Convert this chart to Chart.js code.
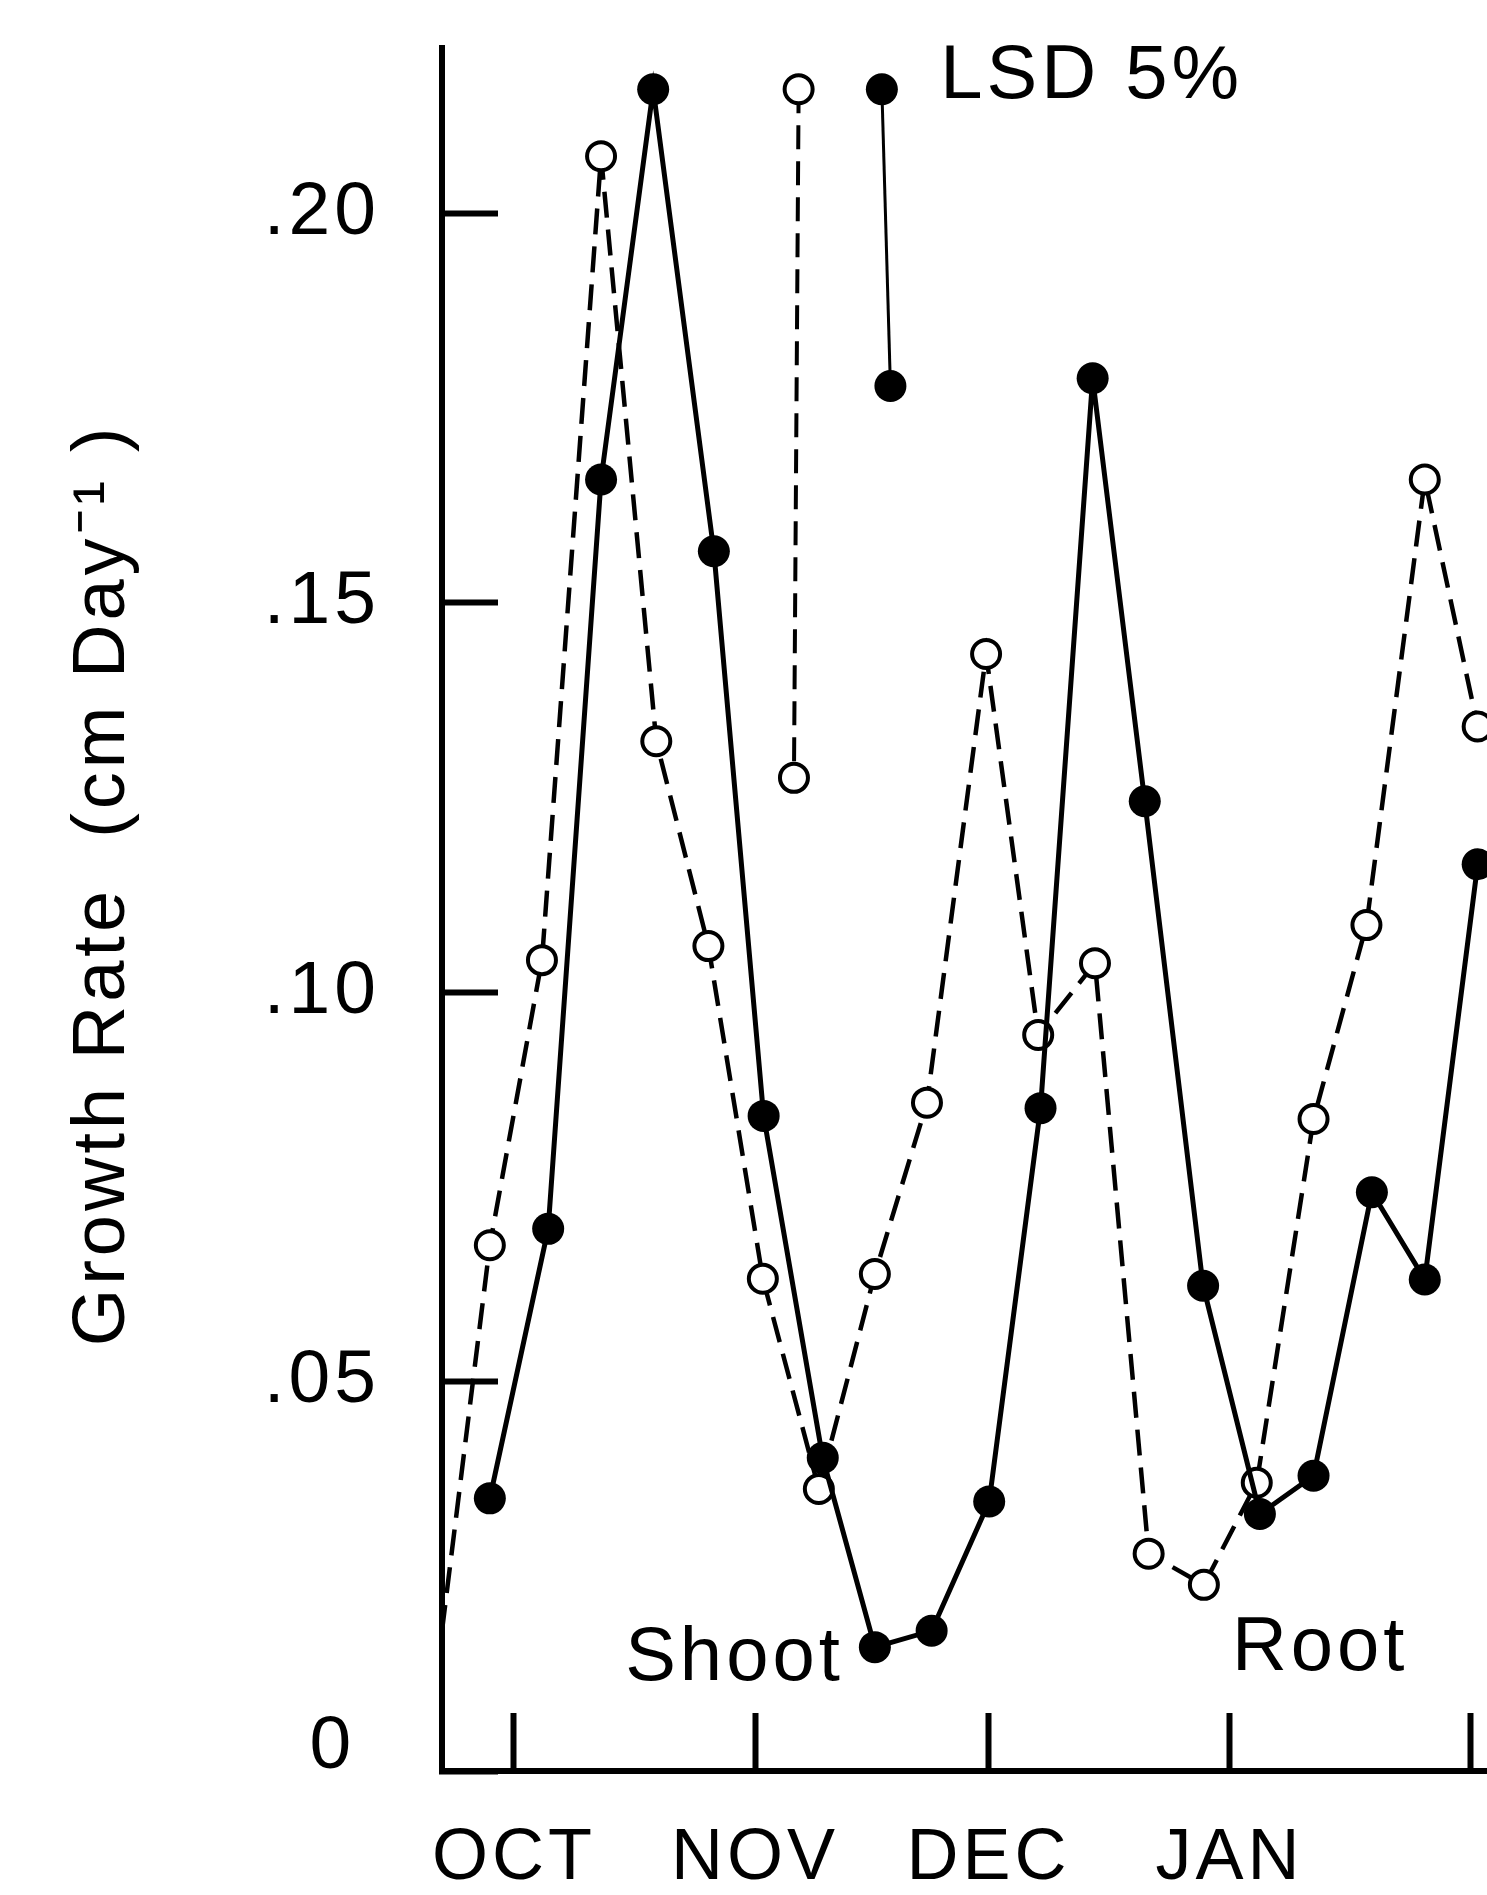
<!DOCTYPE html>
<html>
<head>
<meta charset="utf-8">
<script src="https://cdn.jsdelivr.net/npm/chart.js@4.4.0/dist/chart.umd.min.js"></script>
<style>
html,body{margin:0;padding:0;background:#fff;overflow:hidden}
canvas{display:block}
</style>
</head>
<body>
<canvas id="c" width="1487" height="1895"></canvas>
<script>
// Sampling dates in days after 1 October, and growth rates (cm day^-1)
const shootDays = [-3.1, 4.4, 11.2, 17.9, 25.7, 32.1, 39.7, 46.4, 53.7, 61.1, 67.7, 74.4, 81.1, 88.6, 95.9, 102.8, 110.3, 117.1, 123.9];
const shootRate = [0.0350, 0.0696, 0.1658, 0.2159, 0.1566, 0.0841, 0.0402, 0.0159, 0.0180, 0.0346, 0.0851, 0.1788, 0.1245, 0.0623, 0.0330, 0.0379, 0.0743, 0.0631, 0.1164];
const rootDays = [-9.25, -3.1, 3.6, 11.2, 18.3, 25.0, 32.0, 39.2, 46.4, 53.1, 60.7, 67.4, 74.7, 81.6, 88.7, 95.5, 102.8, 109.6, 117.1, 123.9];
const rootRate = [0.0180, 0.0675, 0.1041, 0.2073, 0.1322, 0.1059, 0.0632, 0.0362, 0.0638, 0.0858, 0.1434, 0.0945, 0.1037, 0.0279, 0.0239, 0.0370, 0.0837, 0.1086, 0.1658, 0.1341];
// LSD 5% bars
const lsdRootDays = [36.6, 36.0];
const lsdRootRate = [0.2159, 0.1275];
const lsdShootDays = [47.3, 48.4];
const lsdShootRate = [0.2159, 0.1778];
// Axis ticks
const monthTickDays = [0, 31, 61, 92, 123];
const monthLabels = ['OCT', 'NOV', 'DEC', 'JAN', ''];
const rateTicks = [0, 0.05, 0.10, 0.15, 0.20];
const rateTickLabels = ['0', '.05', '.10', '.15', '.20'];
// Text annotations
const noteTexts = ['Shoot', 'Root', 'LSD 5%'];
const noteDays = [14.3, 92.3, 54.8];
const noteRates = [0.0117, 0.0130, 0.2148];

const FONT = '"Liberation Sans", Arial, sans-serif';
const toPts = (xs, ys) => xs.map((d, i) => ({x: d, y: ys[i]}));
const noScalePadding = s => { s.paddingTop = 0; s.paddingBottom = 0; s.paddingLeft = 0; s.paddingRight = 0; };

const spacingPlugin = {
  id: 'spacing',
  beforeLayout(chart) { chart.ctx.letterSpacing = '4px'; },
  beforeDraw(chart) { chart.ctx.letterSpacing = '4px'; }
};

const notesPlugin = {
  id: 'notes',
  afterDatasetsDraw(chart) {
    const ctx = chart.ctx, xs = chart.scales.x, ys = chart.scales.y;
    ctx.save();
    ctx.letterSpacing = '4px';
    ctx.font = '76px ' + FONT;
    ctx.fillStyle = '#000';
    ctx.textAlign = 'left';
    ctx.textBaseline = 'alphabetic';
    noteTexts.forEach((t, i) => {
      ctx.fillText(t, xs.getPixelForValue(noteDays[i]), ys.getPixelForValue(noteRates[i]));
    });
    ctx.restore();
  }
};

new Chart(document.getElementById('c'), {
  type: 'line',
  data: {
    datasets: [
      {
        label: 'Shoot',
        data: toPts(shootDays, shootRate),
        borderColor: '#000', borderWidth: 5, tension: 0,
        pointRadius: 16, pointBackgroundColor: '#000', pointBorderColor: '#000', pointBorderWidth: 0
      },
      {
        label: 'Root',
        data: toPts(rootDays, rootRate),
        borderColor: '#000', borderWidth: 4.5, borderDash: [26, 12], tension: 0,
        pointRadius: c => c.dataIndex === 0 ? 0 : 14,
        pointBackgroundColor: '#fff', pointBorderColor: '#000', pointBorderWidth: 4
      },
      {
        label: 'LSD Root',
        data: toPts(lsdRootDays, lsdRootRate),
        borderColor: '#000', borderWidth: 4, borderDash: [24, 12], tension: 0,
        pointRadius: 14, pointBackgroundColor: '#fff', pointBorderColor: '#000', pointBorderWidth: 4
      },
      {
        label: 'LSD Shoot',
        data: toPts(lsdShootDays, lsdShootRate),
        borderColor: '#000', borderWidth: 3, tension: 0,
        pointRadius: 16, pointBackgroundColor: '#000', pointBorderColor: '#000', pointBorderWidth: 0
      }
    ]
  },
  options: {
    responsive: false,
    animation: false,
    devicePixelRatio: 1,
    layout: {autoPadding: false, padding: {left: 0, top: 48, right: 0, bottom: 0}},
    plugins: {legend: {display: false}, tooltip: {enabled: false}},
    scales: {
      x: {
        type: 'linear',
        min: -9.25, max: 125.1,
        afterBuildTicks: s => { s.ticks = monthTickDays.map(v => ({value: v})); },
        afterFit: s => { s.height = 124; noScalePadding(s); },
        ticks: {
          callback: v => monthLabels[monthTickDays.indexOf(v)],
          font: {family: FONT, size: 72}, color: '#000', padding: 103,
          maxRotation: 0, autoSkip: false
        },
        grid: {drawOnChartArea: false, drawTicks: true, tickLength: -58, tickWidth: 6, tickColor: '#000'},
        border: {display: true, width: 6, color: '#000'}
      },
      y: {
        type: 'linear',
        min: 0, max: 0.2212,
        afterBuildTicks: s => { s.ticks = rateTicks.map(v => ({value: v})); },
        afterFit: s => { s.width = 442; noScalePadding(s); },
        ticks: {
          callback: v => {
            const t = rateTickLabels[rateTicks.indexOf(v)];
            return v === 0 ? [t + '\u00A0', ''] : t;
          },
          font: {family: FONT, size: 75, lineHeight: 0.64}, color: '#000', padding: 118
        },
        grid: {drawOnChartArea: false, drawTicks: true, tickLength: -56, tickWidth: 6, tickColor: '#000'},
        border: {display: true, width: 6, color: '#000'},
        title: {
          display: true,
          text: '  Growth Rate  (cm Day\u207B\u00B9 )',
          font: {family: FONT, size: 74}, color: '#000',
          padding: {top: 59, bottom: 0}
        }
      }
    }
  },
  plugins: [spacingPlugin, notesPlugin]
});
</script>
</body>
</html>
